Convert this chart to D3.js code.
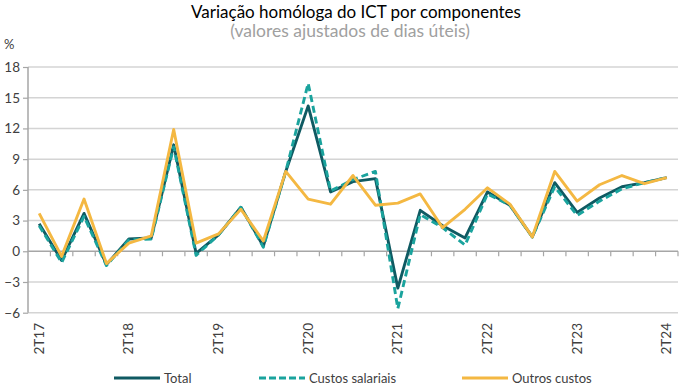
<!DOCTYPE html>
<html><head><meta charset="utf-8">
<script src="https://cdn.jsdelivr.net/npm/d3@7/dist/d3.min.js"></script>
<style>body{margin:0;background:#fff;} svg{display:block;font-family:Lato,"Open Sans",sans-serif;}</style>
</head><body>
<svg id="c" width="681" height="388"></svg>
<script>
const quarters = ["2T17","3T17","4T17","1T18","2T18","3T18","4T18","1T19","2T19","3T19","4T19","1T20","2T20","3T20","4T20","1T21","2T21","3T21","4T21","1T22","2T22","3T22","4T22","1T23","2T23","3T23","4T23","1T24","2T24"];
const tickLabels = ["2T17","2T18","2T19","2T20","2T21","2T22","2T23","2T24"];
const yTicks = [-6,-3,0,3,6,9,12,15,18];
const total =   [2.7,-0.9,3.7,-1.3,1.2,1.3,10.4,-0.2,1.6,4.3,0.5,7.8,14.2,5.8,6.8,7.1,-3.6,4.0,2.5,1.3,5.8,4.5,1.4,6.7,3.8,5.2,6.3,6.7,7.2];
const custos =  [2.5,-1.1,3.4,-1.4,1.1,1.2,10.2,-0.4,1.6,4.3,0.4,7.8,16.4,5.9,7.0,7.8,-5.6,3.6,2.3,0.6,5.6,4.5,1.4,6.3,3.5,4.9,6.1,6.7,7.2];
const outros =  [3.7,-0.5,5.1,-1.2,0.8,1.5,11.9,0.8,1.7,4.1,1.0,7.8,5.1,4.6,7.4,4.5,4.7,5.6,2.3,4.1,6.2,4.6,1.4,7.8,4.9,6.5,7.4,6.6,7.2];
const seriesNames = ["Total","Custos salariais","Outros custos"];
const colors = ["#0f5a62","#1aa39d","#f4b842"];

const svg = d3.select("#c");
const x = d3.scaleBand().domain(quarters).range([28,678]);
const y = d3.scaleLinear().domain([-6,18]).range([312.7,67]);

// gridlines
svg.append("g").selectAll("line").data(yTicks.filter(d=>d!==0)).join("line")
  .attr("x1",28).attr("x2",678).attr("y1",d=>y(d)).attr("y2",d=>y(d))
  .attr("stroke","#d4d4d4").attr("stroke-width",1.5);

// y axis
const ya = svg.append("g").attr("transform","translate(28,0)")
  .call(d3.axisLeft(y).tickValues(yTicks).tickSize(5).tickPadding(3).tickFormat(d3.format("d")));
ya.select(".domain").attr("stroke","#a6a6a6").attr("stroke-width",1.5).attr("d","M0,"+y(18)+"V"+y(-6));
ya.selectAll(".tick line").attr("stroke","#a6a6a6").attr("stroke-width",1.2);
ya.selectAll(".tick text").attr("fill","#404040").style("font-size","13.5px").style("font-family","Lato, sans-serif");

// zero line with category ticks
svg.append("line").attr("x1",28).attr("x2",678).attr("y1",y(0)).attr("y2",y(0))
  .attr("stroke","#a6a6a6").attr("stroke-width",1.5);
svg.append("g").selectAll("line").data(quarters).join("line")
  .attr("x1",(d,i)=>28+x.step()*(i+1)).attr("x2",(d,i)=>28+x.step()*(i+1))
  .attr("y1",y(0)).attr("y2",y(0)+5).attr("stroke","#a6a6a6").attr("stroke-width",1.2);

// x labels
svg.append("g").selectAll("text").data(tickLabels).join("text")
  .attr("transform",d=>`translate(${x(d)+x.bandwidth()/2+4.5},323) rotate(-90)`)
  .attr("text-anchor","end").attr("fill","#404040").style("font-size","13.5px")
  .text(d=>d);

// lines
const data = [total, custos, outros];
const line = d3.line().x((d,i)=>x(quarters[i])+x.bandwidth()/2).y(d=>y(d));
data.forEach((s,k)=>{
  svg.append("path").datum(s).attr("d",line).attr("fill","none")
    .attr("stroke",colors[k]).attr("stroke-width",2.9)
    .attr("stroke-linejoin","round")
    .attr("stroke-dasharray",k===1?"7,4":null);
});

// title
svg.append("text").attr("x",356).attr("y",18).attr("text-anchor","middle")
  .style("font-size","17px").attr("fill","#000").text("Variação homóloga do ICT por componentes");
svg.append("text").attr("x",350).attr("y",37).attr("text-anchor","middle")
  .style("font-size","17.5px").attr("fill","#a0a0a0").text("(valores ajustados de dias úteis)");
svg.append("text").attr("x",4).attr("y",49).style("font-size","13px").attr("fill","#404040").text("%");

// legend
const lx = [114,259,462];
seriesNames.forEach((n,k)=>{
  svg.append("line").attr("x1",lx[k]).attr("x2",lx[k]+46).attr("y1",378).attr("y2",378)
    .attr("stroke",colors[k]).attr("stroke-width",3).attr("stroke-dasharray",k===1?"7,3":null);
  svg.append("text").attr("x",lx[k]+50).attr("y",383).style("font-size","13px").attr("fill","#404040").text(n);
});
</script>
</body></html>
